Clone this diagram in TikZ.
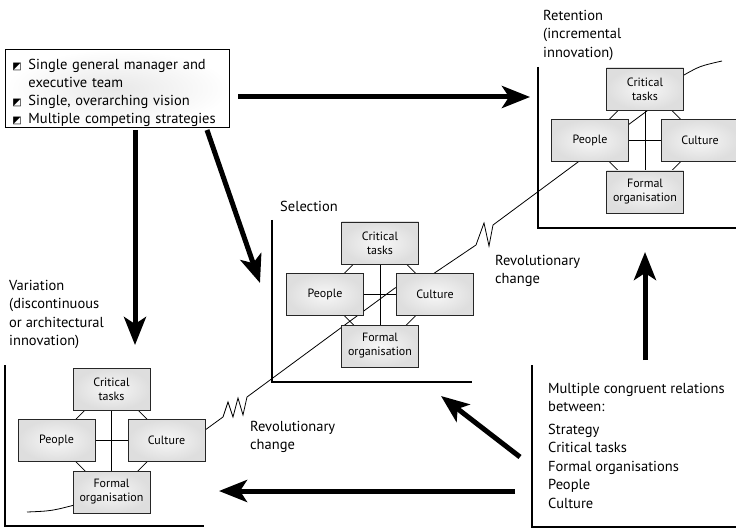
\documentclass[tikz,border=0pt]{standalone}
\usepackage{fontspec}
\setmainfont{PT Sans}
\newfontfamily\symfont{DejaVu Sans}
\usepackage{tikz}
\usetikzlibrary{shapes.geometric,arrows.meta,positioning,backgrounds}

\newcommand{\sqbullet}{\makebox[16pt][l]{\symfont\fontsize{10}{10}\selectfont ◩}}

\begin{document}
\begin{tikzpicture}[x=1pt, y=-1pt,
  unit/.style={rectangle, draw=black!85, line width=0.8pt,
               minimum width=77pt, minimum height=42pt, inner sep=1pt,
               align=center, font=\fontsize{12}{14}\selectfont,
               inner color=gray!6, outer color=gray!26},
  link/.style={draw, line width=0.8pt},
  frame/.style={line width=2.6pt},
  label/.style={anchor=north west, inner sep=0pt, align=left,
                font=\fontsize{14.5}{18.5}\selectfont},
  bigarrow/.style={line width=5pt,
                   -{Stealth[length=28pt, width=22pt, inset=7pt]}},
  track/.style={line width=0.8pt}
]
  \useasboundingbox (0,0) rectangle (736,529);

  % Structure box
  \node[draw, line width=1pt, anchor=north west, minimum width=224pt,
        minimum height=78pt, inner sep=0pt, text width=210pt,
        inner color=gray!18, outer color=white,
        font=\fontsize{14.5}{18}\selectfont] (struct) at (5,49) {
    \rule{0pt}{19.5pt}\sqbullet Single general manager and\\
    \hspace*{16pt}executive team\\
    \sqbullet Single, overarching vision\\
    \sqbullet Multiple competing strategies
  };

  % Three congruence models
  \foreach \cl/\cx/\cy in {var/111.5/440.5, sel/380/294.5, ret/645/140.5}{
    \node[diamond, draw, line width=0.8pt, minimum width=114pt,
          minimum height=114pt, inner sep=0pt] (\cl-dm) at (\cx,\cy) {};
    \node[unit] (\cl-ct) at (\cx,\cy-51.5) {Critical\\tasks};
    \node[unit] (\cl-pe) at (\cx-55,\cy) {People};
    \node[unit] (\cl-cu) at (\cx+55,\cy) {Culture};
    \node[unit] (\cl-fo) at (\cx,\cy+51.5) {Formal\\organisation};
    \begin{pgfonlayer}{background}
      \draw[link] (\cl-ct) -- (\cl-fo);
      \draw[link] (\cl-pe) -- (\cl-cu);
    \end{pgfonlayer}
  }

  % Frames
  \draw[frame] (5,365) |- (204,526);
  \draw[frame] (272,220) |- (472,382);
  \draw[frame] (538,67) |- (736,228);
  \draw[frame] (532,365) |- (736,527);

  % Labels
  \node[label] (ret-lbl) at (543,9.6) {Retention\\(incremental\\innovation)};
  \node[label] (sel-lbl) at (280,200.6) {Selection};
  \node[label] (var-lbl) at (9,279.6)
       {Variation\\(discontinuous\\or architectural\\innovation)};
  \node[label] (rev-up) at (495,254.6) {Revolutionary\\change};
  \node[label] (rev-lo) at (250,420.6) {Revolutionary\\change};
  \node[label] (relations) at (548,382.6) {
    Multiple congruent relations\\
    between:\\[4pt]
    Strategy\\
    Critical tasks\\
    Formal organisations\\
    People\\
    Culture
  };

  % Trajectory with revolutionary breaks
  \begin{pgfonlayer}{background}
    \draw[track] (27,512) .. controls (52,511) .. (82,503);
    \draw[track] (190,441) -- (223,417) -- (228,402) -- (233,417)
      -- (238,398) -- (243,415) -- (247,397) -- (395,288) -- (433,274)
      -- (476,245) -- (484,223) -- (489,246) -- (493,225) -- (655,105);
    \draw[track] (670,85) -- (684,75) .. controls (700,66) .. (722,61);
  \end{pgfonlayer}

  % Arrows
  \coordinate (top-s) at (238,97);   \coordinate (top-e) at (530,97);
  \coordinate (down-s) at (135,130); \coordinate (down-e) at (135,345);
  \coordinate (diag-s) at (207,130); \coordinate (diag-e) at (260,283);
  \coordinate (up-s) at (645,360);   \coordinate (up-e) at (645,252);
  \coordinate (back-s) at (520,457); \coordinate (back-e) at (441,396);
  \coordinate (low-s) at (515,491);  \coordinate (low-e) at (219,491);
  \draw[bigarrow] (top-s) -- (top-e);
  \draw[bigarrow] (down-s) -- (down-e);
  \draw[bigarrow] (diag-s) -- (diag-e);
  \draw[bigarrow] (up-s) -- (up-e);
  \draw[bigarrow] (back-s) -- (back-e);
  \draw[bigarrow] (low-s) -- (low-e);
\end{tikzpicture}
\end{document}
